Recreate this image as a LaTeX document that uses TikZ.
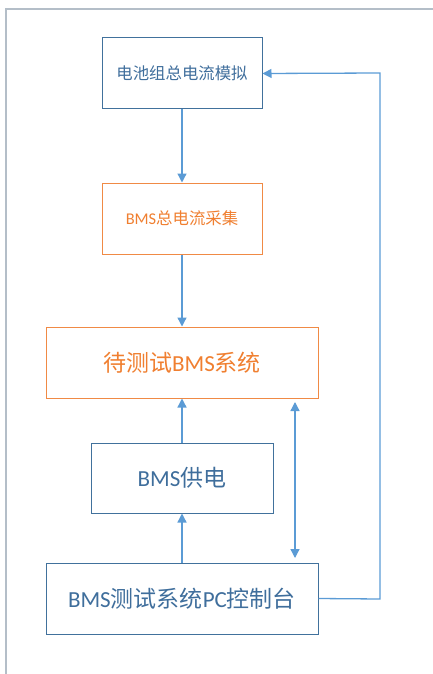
\documentclass[tikz,border=0pt]{standalone}
\usepackage{fontspec}
\setmainfont{Carlito}
\newfontfamily\cjk{Noto Sans CJK SC}
\usetikzlibrary{arrows.meta}
\definecolor{framegray}{HTML}{B4BEC8}
\definecolor{boxblue}{HTML}{41719C}
\definecolor{txtblue}{HTML}{3F6E9C}
\definecolor{arrblue}{HTML}{5B9BD5}
\definecolor{boxorange}{HTML}{F08A45}
\definecolor{txtorange}{HTML}{F07F30}
\tikzset{
  bluebox/.style={draw=boxblue, line width=1pt, fill=white, inner sep=0pt, text=txtblue},
  orangebox/.style={draw=boxorange, line width=1pt, fill=white, inner sep=0pt, text=txtorange},
  conn/.style={draw=arrblue, line width=1.3pt, line join=miter, -{Triangle[length=9pt,width=9pt]}},
  dconn/.style={draw=arrblue, line width=1.3pt, {Triangle[length=9pt,width=9pt]}-{Triangle[length=9pt,width=9pt]}},
  smalltxt/.style={font=\fontsize{16.4}{19}\selectfont},
  bigtxt/.style={font=\fontsize{23}{27}\selectfont},
}
\begin{document}
\begin{tikzpicture}[x=1pt,y=-1pt]
\useasboundingbox (0,0) rectangle (433,674);
\draw[framegray, line width=2pt] (6,680) -- (6,9) -- (440,9);
\node[bluebox, smalltxt, minimum width=160pt, minimum height=71pt] (sim) at (182,73.5) {\cjk 电池组总电流模拟};
\node[orangebox, smalltxt, minimum width=160pt, minimum height=71pt] (acq) at (182,218.5) {BMS{\cjk 总电流采集}};
\node[orangebox, bigtxt, minimum width=272pt, minimum height=71pt] (dut) at (182,362.5) {{\cjk 待测试}BMS{\cjk 系统}};
\node[bluebox, bigtxt, minimum width=182pt, minimum height=70pt] (pwr) at (182,478) {BMS{\cjk 供电}};
\node[bluebox, bigtxt, minimum width=272pt, minimum height=71pt] (pc) at (182,598.5) {BMS{\cjk 测试系统}PC{\cjk 控制台}};
\coordinate (dtop) at (295,402);
\coordinate (dbot) at (295,558);
\coordinate (fb1) at (380,599);
\coordinate (fb2) at (380,73);
\draw[conn] (sim.south) -- (acq.north);
\draw[conn] (acq.south) -- (dut.north);
\draw[conn] (pwr.north) -- (dut.south);
\draw[conn] (pc.north) -- (pwr.south);
\draw[dconn] (dtop) -- (dbot);
\draw[conn] (pc.east) -- (fb1) -- (fb2) -- (sim.east);
\end{tikzpicture}
\end{document}
